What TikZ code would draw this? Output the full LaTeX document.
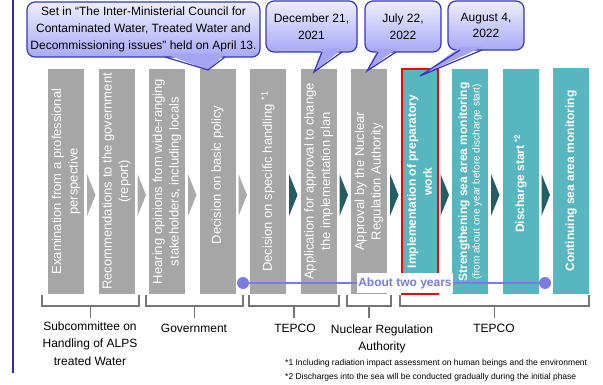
\documentclass[tikz,border=0pt]{standalone}
\usepackage{fontspec}
\setmainfont{Liberation Sans}
\definecolor{boxgray}{HTML}{A6A6A6}
\definecolor{chevgray}{HTML}{ABABAB}
\definecolor{tealbox}{HTML}{58B6BE}
\definecolor{tealdark}{HTML}{245E63}
\definecolor{callborder}{HTML}{3535C5}
\definecolor{calltop}{HTML}{EEEEFF}
\definecolor{callbot}{HTML}{A9A9F5}
\definecolor{tailfill}{HTML}{A4A4F2}
\definecolor{lineblue}{HTML}{2A2AB5}
\definecolor{aboutcol}{HTML}{7B7BE2}
\definecolor{bracketgray}{HTML}{767676}
\begin{document}
\begin{tikzpicture}[x=1pt,y=-1pt,
  gbox/.style={fill=boxgray, minimum width=36pt, minimum height=225pt, inner sep=0pt},
  tbox/.style={gbox, fill=tealbox},
  gtext/.style={text=white, rotate=90, align=center, inner sep=0pt, font=\fontsize{13}{16.5}\selectfont},
  ttext/.style={gtext, font=\bfseries\fontsize{12}{16}\selectfont},
  callout/.style={draw=callborder, line width=1.2pt, rounded corners=8pt, top color=calltop, bottom color=callbot, align=center, inner sep=0pt, font=\fontsize{12}{16.8}\selectfont},
  tailedge/.style={draw=callborder, line width=1.2pt, line join=miter},
  bracket/.style={draw=bracketgray, line width=1.4pt},
  lbl/.style={align=center, inner sep=0pt, font=\fontsize{12}{17.5}\selectfont},
  foot/.style={anchor=west, inner sep=0pt, font=\fontsize{8.5}{10}\selectfont},
  dot/.style={circle, fill=aboutcol, minimum size=12pt, inner sep=0pt},
]
\useasboundingbox (0,0) rectangle (603,385);
\fill[white] (0,0) rectangle (603,385);
% left rule
\draw[line width=2pt, lineblue] (12.5,0) -- (12.5,373);
% boxes
\node[gbox] (b1) at (66,181.5) {};
\node[gbox] (b2) at (116.5,181.5) {};
\node[gbox] (b3) at (167,181.5) {};
\node[gbox] (b4) at (217.5,181.5) {};
\node[gbox] (b5) at (268,181.5) {};
\node[gbox] (b6) at (318.5,181.5) {};
\node[gbox] (b7) at (369,181.5) {};
\node[tbox, draw=red, line width=2pt] (b8) at (419.5,181.5) {};
\node[tbox] (b9) at (470,181.5) {};
\node[tbox] (b10) at (520.5,181.5) {};
\node[tbox] (b11) at (571,181) {};
% chevrons
\foreach \x/\c in {84/chevgray, 134.5/chevgray, 185/chevgray, 235.5/chevgray, 286/tealdark, 336.5/tealdark, 387/tealdark, 437.5/tealdark, 488/tealdark, 538.5/tealdark}
  \fill[\c] (\x+3,174) -- (\x+11.5,195) -- (\x+3,216) -- cycle;
% box texts
\node[gtext] (x1) at (66,181.5) {Examination from a professional\\perspective};
\node[gtext] (x2) at (116.5,181.5) {Recommendations to the government\\(report)};
\node[gtext] (x3) at (167,181.5) {Hearing opinions from wide-ranging\\stakeholders, including locals};
\node[gtext] (x4) at (217.5,175) {Decision on basic policy};
\node[gtext] (x5) at (268,181.5) {Decision on specific handling \textsuperscript{*1}};
\node[gtext] (x6) at (318.5,181.5) {Application for approval to change\\the implementation plan};
\node[gtext] (x7) at (369,181.5) {Approval by the Nuclear\\Regulation Authority};
\node[ttext] (x8) at (419.5,181.5) {Implementation of preparatory\\work};
\node[ttext] (x9) at (470,182) {Strengthening sea area monitoring\\[-3.5pt]{\mdseries\fontsize{10}{12}\selectfont (from about one year before discharge start)}};
\node[ttext] (x10) at (520.5,183.5) {Discharge start \textsuperscript{*2}};
\node[ttext] (x11) at (571,181) {Continuing sea area monitoring};
% callouts
\node[callout, minimum width=233pt, minimum height=55pt] (c1) at (143.5,29.5)
  {Set in \textquotedblleft The Inter-Ministerial Council for\\Contaminated Water, Treated Water and\\Decommissioning issues\textquotedblright{} held on April 13.};
\coordinate (t1) at (208,70);
\fill[tailfill] (165,54) -- (t1) -- (225,54) -- cycle;
\draw[tailedge] (165,57) -- (t1) -- (225,57);
\node[callout, minimum width=91pt, minimum height=51pt] (c2) at (311.5,26.5) {December 21,\\2021};
\coordinate (t2) at (314,72);
\fill[tailfill] (322,49) -- (t2) -- (342,49) -- cycle;
\draw[tailedge] (322,52) -- (t2) -- (342,52);
\node[callout, minimum width=76pt, minimum height=51pt] (c3) at (403,26.5) {July 22,\\2022};
\coordinate (t3) at (367,71);
\fill[tailfill] (378,49) -- (t3) -- (396,49) -- cycle;
\draw[tailedge] (378,52) -- (t3) -- (396,52);
\node[callout, minimum width=76pt, minimum height=49pt] (c4) at (486,25.5) {August 4,\\2022};
\coordinate (t4) at (420,76);
\fill[tailfill] (460,47) -- (t4) -- (482,47) -- cycle;
\draw[tailedge] (460,50) -- (t4) -- (482,50);
% about two years
\node[dot] (d1) at (243,283) {};
\node[dot] (d2) at (545,283) {};
\draw[aboutcol, line width=1.3pt] (d1) -- (d2);
\node[fill=white, text=aboutcol, font=\bfseries\fontsize{12}{14}\selectfont, minimum width=96pt, minimum height=20pt, inner sep=0pt] (about) at (405,283) {About two years};
% brackets
\foreach \a/\b/\m in {42/139/90.5, 146/243/194.5, 249/339/294, 347/391/369, 400/589/494.5}
  \draw[bracket] (\a,295) -- (\a,306) -- (\b,306) -- (\b,295) (\m,306) -- (\m,318);
% group labels
\node[lbl] (g1) at (90,343.7) {Subcommittee on\\Handling of ALPS\\treated Water};
\node[lbl] (g2) at (194,328) {Government};
\node[lbl] (g3) at (295,328) {TEPCO};
\node[lbl] (g4) at (382,339) {Nuclear Regulation\\Authority};
\node[lbl] (g5) at (494,328) {TEPCO};
% footnotes
\node[foot] (f1) at (285,363) {*1 Including radiation impact assessment on human beings and the environment};
\node[foot] (f2) at (285,377) {*2 Discharges into the sea will be conducted gradually during the initial phase};
\end{tikzpicture}
\end{document}
